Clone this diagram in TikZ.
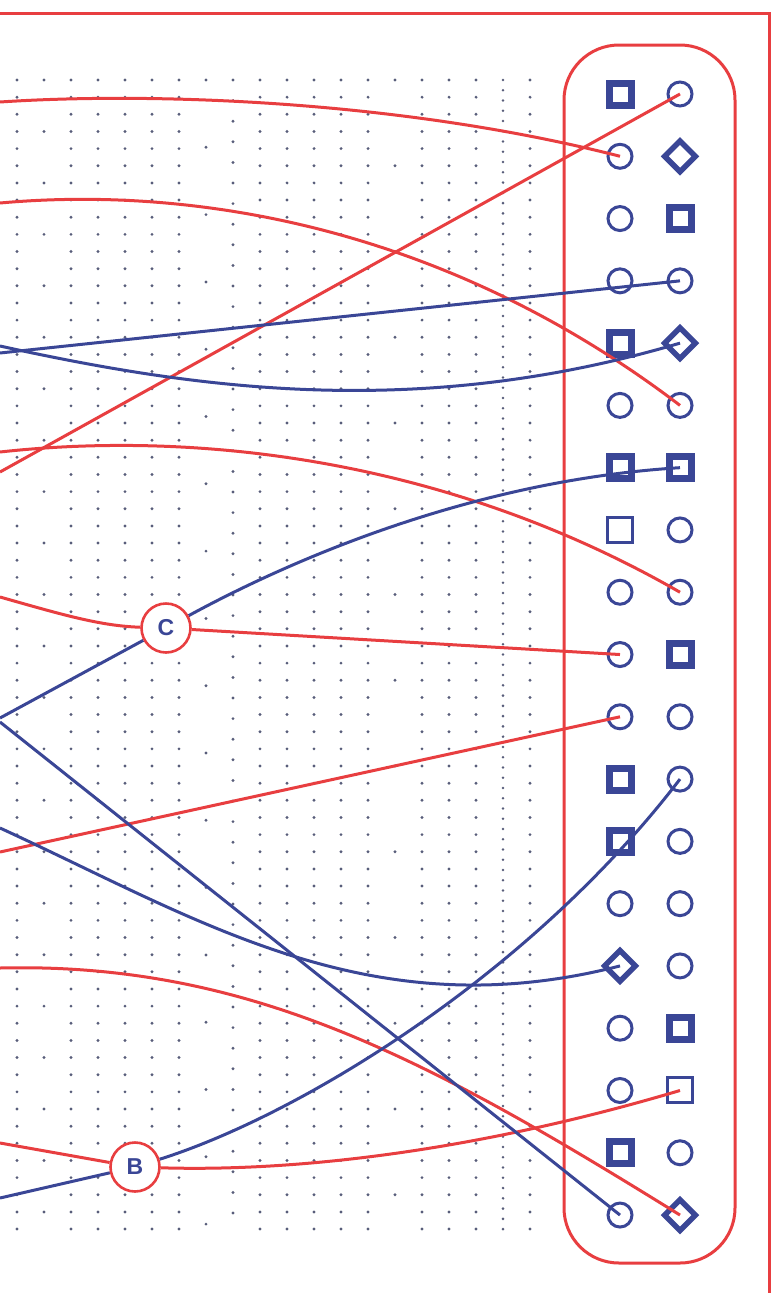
\documentclass[tikz,border=0pt]{standalone}
\usepackage{fontspec}
\setmainfont{Liberation Sans}
\usetikzlibrary{shapes.geometric}
\definecolor{inkblue}{RGB}{58,70,150}
\definecolor{inkred}{RGB}{232,62,64}
\definecolor{dotgray}{RGB}{88,93,122}
\pgfdeclarelayer{dots}
\pgfdeclarelayer{front}
\pgfsetlayers{dots,main,front}
\tikzset{
  ring/.style={circle, draw=inkblue, line width=3pt, minimum size=24pt, inner sep=0pt},
  blockbox/.style={rectangle, draw=inkblue, line width=7pt, minimum size=22pt, inner sep=0pt},
  openbox/.style={rectangle, draw=inkblue, line width=3pt, minimum size=25pt, inner sep=0pt},
  gem/.style={diamond, draw=inkblue, line width=5.5pt, minimum size=33pt, inner sep=0pt},
  junction/.style={circle, draw=inkred, line width=2.6pt, fill=white, minimum size=49pt,
    inner sep=0pt, text=inkblue, font=\fontsize{23}{23}\selectfont\bfseries},
  redline/.style={draw=inkred, line width=3pt},
  blueline/.style={draw=inkblue, line width=3pt},
}
\begin{document}
\begin{tikzpicture}[x=1pt,y=-1pt]
\useasboundingbox (0,0) rectangle (771,1293);

% Dot grid
\begin{pgfonlayer}{dots}
\foreach \k in {0,2,3,4,5,6,9,10,11,12,13,15,16,17,19}
  \foreach \i in {0,...,67}
    \fill[dotgray] ({17+27*\k},{80+17.15*\i}) circle (1.6pt);
\foreach \i in {0,3,...,66} \fill[dotgray] (44,{80+17.15*\i}) circle (1.6pt);
\foreach \i in {0,...,17} \fill[dotgray] (206,{80+67.3*\i}) circle (1.6pt);
\foreach \i in {0,...,55} \fill[dotgray] (233,{80+20.6*\i}) circle (1.6pt);
\foreach \i in {0,5,...,65} \fill[dotgray] (395,{80+17.15*\i}) circle (1.6pt);
\foreach \i in {0,...,112} \fill[dotgray] (503,{80+10.26*\i}) circle (1.4pt);
\end{pgfonlayer}

% Frame
\draw[inkred, line width=3pt] (0,13) -- (769,13) -- (769,1293);
\node[draw=inkred, line width=3pt, rounded corners=55pt, minimum width=171pt,
  minimum height=1218pt] (panel) at (649.5,654) {};

% Symbols
\foreach \sh [count=\i] in {blockbox,ring,ring,ring,blockbox,ring,blockbox,openbox,ring,ring,
    ring,blockbox,blockbox,ring,gem,ring,ring,blockbox,ring}
  \node[\sh] (l\i) at (620,{94+62.28*(\i-1)}) {};
\foreach \sh [count=\i] in {ring,gem,blockbox,ring,gem,ring,blockbox,ring,ring,blockbox,
    ring,ring,ring,ring,ring,blockbox,openbox,ring,gem}
  \node[\sh] (r\i) at (680,{94+62.28*(\i-1)}) {};

% Junctions
\begin{pgfonlayer}{front}
\node[junction] (C) at (166,628) {C};
\node[junction] (B) at (135,1167) {B};
\end{pgfonlayer}

% Free ends
\coordinate (w1) at (0,102);
\coordinate (w2) at (0,203);
\coordinate (w3) at (0,472);
\coordinate (w4) at (0,452);
\coordinate (w5) at (0,597);
\coordinate (w6) at (0,852);
\coordinate (w7) at (0,968);
\coordinate (w8) at (0,1143);
\coordinate (w9) at (0,353);
\coordinate (w10) at (0,346);
\coordinate (w11) at (0,718);
\coordinate (w12) at (0,722);
\coordinate (w13) at (0,828);
\coordinate (w14) at (0,1198);

% Red lines
\draw[redline] (w1) .. controls (150,92) and (400,100) .. (l2.center);
\draw[redline] (w2) .. controls (200,185) and (450,230) .. (r6.center);
\draw[redline] (w3) -- (r1.center);
\draw[redline] (w4) .. controls (200,430) and (450,460) .. (r9.center);
\draw[redline] (w5) .. controls (60,614) and (100,626) .. (C);
\draw[redline] (C) -- (l10.center);
\draw[redline] (w6) -- (l11.center);
\draw[redline] (w7) .. controls (250,962) and (430,1060) .. (r19.center);
\draw[redline] (w8) -- (B);
\draw[redline] (B) .. controls (300,1172) and (480,1150) .. (r17.center);

% Blue lines
\draw[blueline] (w9) -- (r4.center);
\draw[blueline] (w10) .. controls (200,390) and (420,420) .. (r5.center);
\draw[blueline] (w11) -- (C);
\draw[blueline] (C) .. controls (300,555) and (480,480) .. (r7.center);
\draw[blueline] (w12) -- (l19.center);
\draw[blueline] (w13) .. controls (200,920) and (370,1030) .. (l15.center);
\draw[blueline] (w14) -- (B);
\draw[blueline] (B) .. controls (300,1115) and (530,975) .. (r12.center);

\end{tikzpicture}
\end{document}
